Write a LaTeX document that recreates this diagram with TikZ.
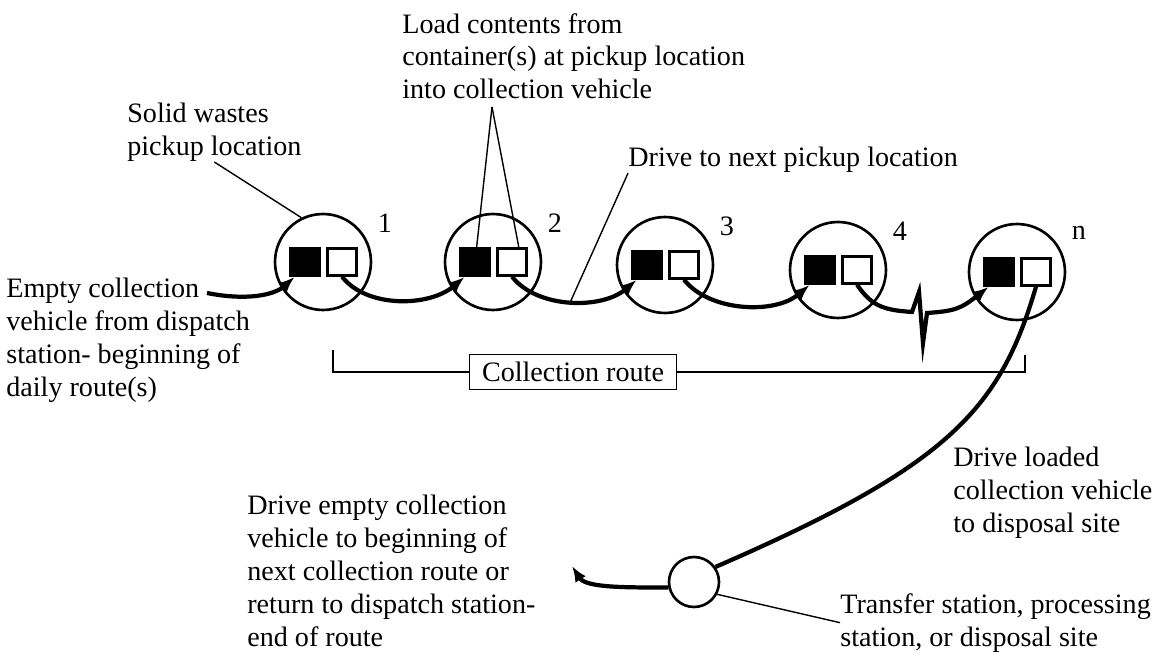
\documentclass[tikz,border=0pt]{standalone}
\usepackage{fontspec}
\setmainfont{Liberation Serif}
\usetikzlibrary{arrows.meta}
\begin{document}
\begin{tikzpicture}[x=0.02cm, y=0.02cm,
  every node/.style={font=\fontsize{16}{18.7}\selectfont},
  lbl/.style={anchor=north west, align=left, inner sep=0pt},
  pickup/.style={circle, draw, line width=1.5pt, minimum size=1.92cm, inner sep=0pt},
  fullbin/.style={draw, fill=black, minimum width=0.62cm, minimum height=0.58cm, inner sep=0pt},
  emptybin/.style={draw, line width=1.3pt, minimum width=0.58cm, minimum height=0.54cm, inner sep=0pt},
  route/.style={line width=2.4pt, -{Latex[length=9pt,width=7pt]}},
  pointer/.style={line width=0.8pt}]
\useasboundingbox (0,0) rectangle (1167,-655);

% pickup locations along the route
\foreach \i/\x/\y in {1/323/262, 2/493/262, 3/665/265, 4/838/270, n/1017/272}{
  \node[pickup] (s\i) at (\x,-\y) {};
  \node[fullbin] (f\i) at ([xshift=-0.36cm]s\i.center) {};
  \node[emptybin] (e\i) at ([xshift=0.38cm]s\i.center) {};
  \node (l\i) at ([xshift=1.24cm, yshift=0.78cm]s\i.center) {\i};
}

% labels
\node[lbl] (sw) at (127,-103) {Solid wastes\\pickup location};
\node[lbl] (ld) at (402,-13) {Load contents from\\container(s) at pickup location\\into collection vehicle};
\node[lbl] (dn) at (628,-147) {Drive to next pickup location};
\node[lbl] (ev) at (6,-278) {Empty collection\\vehicle from dispatch\\station- beginning of\\daily route(s)};
\node[lbl] (dl) at (953,-447) {Drive loaded\\collection vehicle\\to disposal site};
\node[lbl] (de) at (247,-495) {Drive empty collection\\vehicle to beginning of\\next collection route or\\return to dispatch station-\\end of route};
\node[lbl] (tf) at (840,-593) {Transfer station, processing\\station, or disposal site};

% collection route bracket
\node[draw, line width=0.9pt, minimum width=4.14cm, minimum height=0.7cm] (cr) at (573,-372) {Collection route};
\coordinate (bl) at (333,-350);
\coordinate (br) at (1025,-355);
\draw[line width=0.9pt] (cr.west) -| (bl);
\draw[line width=0.9pt] (cr.east) -| (br);

% vehicle route
\coordinate (depot) at (207,-293);
\draw[route] (depot) .. controls +(40,-8) and +(-20,-18) .. (f1.-125);
\foreach \a/\b in {1/2, 2/3, 3/4}
  \draw[route] (e\a.south) .. controls +(25,-32) and +(-35,-30) .. coordinate[pos=0.5] (m\a) (f\b.-125);
\draw[route] (e4.south) .. controls +(15,-22) and +(-28,2) .. (912,-312)
  -- ++(7,20) -- ++(4,-51) -- ++(4,30)
  .. controls +(28,2) and +(-28,-22) .. (fn.-125);

% disposal trip
\node[circle, draw, line width=1.5pt, minimum size=1cm, inner sep=0pt] (tr) at (694,-582) {};
\draw[line width=2.4pt] (en.south) .. controls (1000,-410) and (948,-466) .. (tr.35);
\coordinate (next) at (572,-566);
\draw[route] (tr.192) .. controls +(-40,0) and +(14,-22) .. (next);

% pointers
\coordinate (apex) at (492,-107);
\draw[pointer] (sw.south) -- (s1.116);
\draw[pointer] (apex) -- (f2.center);
\draw[pointer] (apex) -- (e2.65);
\draw[pointer] (dn.south west) -- (m2);
\draw[pointer] (tr.-28) -- (tf.west);
\end{tikzpicture}
\end{document}
